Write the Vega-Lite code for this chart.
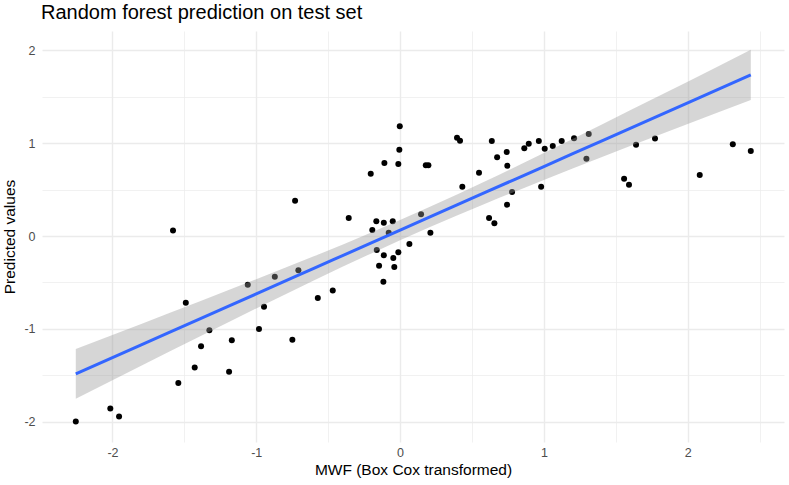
{
  "$schema": "https://vega.github.io/schema/vega-lite/v6.json",
  "width": 742,
  "height": 411,
  "autosize": {"type": "none"},
  "padding": {"left": 42, "top": 31, "right": 5, "bottom": 43},
  "background": "white",
  "title": {"text": "Random forest prediction on test set", "anchor": "start", "frame": "group", "fontSize": 20, "font": "Liberation Sans", "fontWeight": "normal", "color": "black", "offset": 8, "dx": -1},
  "config": {
    "view": {"stroke": null},
    "axis": {
      "domain": false,
      "ticks": false,
      "gridColor": "#EBEBEB",
      "gridWidth": {"condition": {"test": "datum.value % 1 !== 0", "value": 0.7}, "value": 1.4},
      "labelFont": "Liberation Sans",
      "labelFontSize": 12.5,
      "labelColor": "#4D4D4D",
      "titleFont": "Liberation Sans",
      "titleFontSize": 15.5,
      "titleFontWeight": "normal",
      "titleColor": "black",
      "labelExpr": "datum.value % 1 === 0 ? '' + datum.value : ''"
    }
  },
  "datasets": {
    "points": [
      {"mwf": -0.730, "pred": 0.381}, {"mwf": -1.579, "pred": 0.061}, {"mwf": -0.707, "pred": -0.370},
      {"mwf": -0.871, "pred": -0.439}, {"mwf": -1.059, "pred": -0.525}, {"mwf": -1.490, "pred": -0.720},
      {"mwf": -0.946, "pred": -0.763}, {"mwf": -1.326, "pred": -1.016}, {"mwf": -0.981, "pred": -1.003},
      {"mwf": -0.749, "pred": -1.119}, {"mwf": -1.170, "pred": -1.122}, {"mwf": -1.384, "pred": -1.187},
      {"mwf": -1.428, "pred": -1.416}, {"mwf": -1.189, "pred": -1.464}, {"mwf": -1.542, "pred": -1.583},
      {"mwf": -2.015, "pred": -1.859}, {"mwf": -1.954, "pred": -1.945}, {"mwf": -2.255, "pred": -1.999},
      {"mwf": -0.572, "pred": -0.669}, {"mwf": -0.468, "pred": -0.586}, {"mwf": -0.357, "pred": 0.194},
      {"mwf": -0.204, "pred": 0.672}, {"mwf": -0.109, "pred": 0.787}, {"mwf": -0.012, "pred": 0.777},
      {"mwf": -0.005, "pred": 0.931}, {"mwf": -0.002, "pred": 1.183}, {"mwf": 0.179, "pred": 0.763},
      {"mwf": 0.197, "pred": 0.763}, {"mwf": 0.396, "pred": 1.060}, {"mwf": 0.417, "pred": 1.028},
      {"mwf": 0.549, "pred": 0.683}, {"mwf": 0.433, "pred": 0.532}, {"mwf": -0.165, "pred": 0.159},
      {"mwf": -0.113, "pred": 0.143}, {"mwf": -0.051, "pred": 0.159}, {"mwf": -0.193, "pred": 0.065},
      {"mwf": -0.079, "pred": 0.036}, {"mwf": 0.146, "pred": 0.234}, {"mwf": 0.211, "pred": 0.036},
      {"mwf": 0.065, "pred": -0.086}, {"mwf": -0.162, "pred": -0.151}, {"mwf": -0.012, "pred": -0.176},
      {"mwf": -0.113, "pred": -0.208}, {"mwf": -0.047, "pred": -0.237}, {"mwf": -0.146, "pred": -0.320},
      {"mwf": -0.040, "pred": -0.334}, {"mwf": -0.116, "pred": -0.493}, {"mwf": 0.638, "pred": 1.025},
      {"mwf": 0.675, "pred": 0.849}, {"mwf": 0.742, "pred": 0.906}, {"mwf": 0.746, "pred": 0.758},
      {"mwf": 0.779, "pred": 0.475}, {"mwf": 0.744, "pred": 0.338}, {"mwf": 0.619, "pred": 0.194},
      {"mwf": 0.656, "pred": 0.137}, {"mwf": 0.864, "pred": 0.946}, {"mwf": 0.895, "pred": 0.996},
      {"mwf": 0.965, "pred": 1.025}, {"mwf": 1.006, "pred": 0.942}, {"mwf": 0.981, "pred": 0.532},
      {"mwf": 1.062, "pred": 0.971}, {"mwf": 1.124, "pred": 1.025}, {"mwf": 1.210, "pred": 1.054},
      {"mwf": 1.312, "pred": 1.100}, {"mwf": 1.296, "pred": 0.834}, {"mwf": 1.558, "pred": 0.618},
      {"mwf": 1.592, "pred": 0.553}, {"mwf": 1.641, "pred": 0.985}, {"mwf": 1.773, "pred": 1.050},
      {"mwf": 2.084, "pred": 0.658}, {"mwf": 2.314, "pred": 0.989}, {"mwf": 2.439, "pred": 0.917}
    ],
    "fit": [
      {"mwf": -2.255, "fit": -1.485, "lower": -1.753, "upper": -1.217},
      {"mwf": -1.8, "fit": -1.173, "lower": -1.398, "upper": -0.947},
      {"mwf": -1.4, "fit": -0.898, "lower": -1.088, "upper": -0.708},
      {"mwf": -1.0, "fit": -0.624, "lower": -0.781, "upper": -0.466},
      {"mwf": -0.6, "fit": -0.349, "lower": -0.479, "upper": -0.219},
      {"mwf": -0.2, "fit": -0.074, "lower": -0.187, "upper": 0.038},
      {"mwf": 0.2, "fit": 0.200, "lower": 0.091, "upper": 0.310},
      {"mwf": 0.6, "fit": 0.475, "lower": 0.353, "upper": 0.596},
      {"mwf": 1.0, "fit": 0.749, "lower": 0.604, "upper": 0.894},
      {"mwf": 1.4, "fit": 1.024, "lower": 0.848, "upper": 1.200},
      {"mwf": 1.8, "fit": 1.298, "lower": 1.088, "upper": 1.509},
      {"mwf": 2.2, "fit": 1.573, "lower": 1.326, "upper": 1.820},
      {"mwf": 2.439, "fit": 1.737, "lower": 1.467, "upper": 2.007}
    ]
  },
  "layer": [
    {
      "data": {"name": "points"},
      "mark": {"type": "circle", "size": 36, "color": "black", "opacity": 1},
      "encoding": {
        "x": {"field": "mwf", "type": "quantitative", "title": "MWF (Box Cox transformed)",
              "scale": {"domain": [-2.49, 2.67], "nice": false, "zero": false},
              "axis": {"values": [-2, -1.5, -1, -0.5, 0, 0.5, 1, 1.5, 2, 2.5], "labelPadding": 4, "titlePadding": 4}},
        "y": {"field": "pred", "type": "quantitative", "title": "Predicted values",
              "scale": {"domain": [-2.22, 2.21], "nice": false, "zero": false},
              "axis": {"values": [-2, -1.5, -1, -0.5, 0, 0.5, 1, 1.5, 2], "labelPadding": 7, "titlePadding": 6}}
      }
    },
    {
      "data": {"name": "fit"},
      "mark": {"type": "area", "color": "#999999", "opacity": 0.4, "interpolate": "monotone"},
      "encoding": {
        "x": {"field": "mwf", "type": "quantitative", "title": "MWF (Box Cox transformed)"},
        "y": {"field": "lower", "type": "quantitative", "title": "Predicted values"},
        "y2": {"field": "upper"}
      }
    },
    {
      "data": {"name": "fit"},
      "mark": {"type": "line", "color": "#3366FF", "strokeWidth": 3, "interpolate": "monotone"},
      "encoding": {
        "x": {"field": "mwf", "type": "quantitative", "title": "MWF (Box Cox transformed)"},
        "y": {"field": "fit", "type": "quantitative", "title": "Predicted values"}
      }
    }
  ]
}
